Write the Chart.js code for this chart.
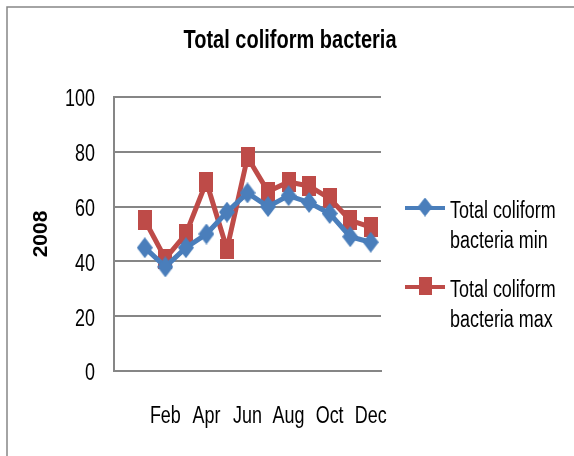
<!DOCTYPE html>
<html>
<head>
<meta charset="utf-8">
<script src="https://cdn.jsdelivr.net/npm/chart.js@4/dist/chart.umd.min.js"></script>
<style>
  html, body { margin: 0; padding: 0; background: #ffffff; }
  #wrap { width: 574px; height: 456px; position: relative; }
</style>
</head>
<body>
<div id="wrap"><canvas id="c" width="574" height="456"></canvas></div>
<script>
// Monthly total coliform bacteria counts, 2008
const months = ['Jan', 'Feb', 'Mar', 'Apr', 'May', 'Jun', 'Jul', 'Aug', 'Sep', 'Oct', 'Nov', 'Dec'];
const coliformMin = [45, 38, 45, 50, 58, 65, 60, 64, 61.5, 57.5, 49, 47];
const coliformMax = [55, 41, 50, 69, 44.5, 78, 65.5, 69, 67.5, 63, 55, 52.5];
const seriesNames = [['Total coliform', 'bacteria min'], ['Total coliform', 'bacteria max']];
const yTicks = [0, 20, 40, 60, 80, 100];
const chartTitle = 'Total coliform bacteria';
const yTitle = '2008';

const SANS = '"Liberation Sans", Arial, sans-serif';
const NARROW_X = 0.78;   // horizontal squeeze for the condensed lettering
const GRID = '#868686';
const BLUE = '#4a7ebb';
const RED = '#be4b48';

// the category axis starts with one empty slot before January
const labels = [''].concat(months);
const minData = [null].concat(coliformMin);
const maxData = [null].concat(coliformMax);

// tall marker glyphs: a diamond and an upright rectangle
function makeMarker(kind, color) {
  const c = document.createElement('canvas');
  const w = kind === 'diamond' ? 16 : 14;
  const h = kind === 'diamond' ? 21 : 20;
  c.width = w;
  c.height = h;
  const g = c.getContext('2d');
  g.fillStyle = color;
  if (kind === 'diamond') {
    g.beginPath();
    g.moveTo(w / 2, 0);
    g.lineTo(w, h / 2);
    g.lineTo(w / 2, h);
    g.lineTo(0, h / 2);
    g.closePath();
    g.fill();
  } else {
    g.fillRect(0, 0, w, h);
  }
  return c;
}
const diamondMarker = makeMarker('diamond', BLUE);
const squareMarker = makeMarker('square', RED);

function narrowText(ctx, text, x, y, align, font, sx) {
  ctx.save();
  ctx.translate(x, y);
  ctx.scale(sx, 1);
  ctx.font = font;
  ctx.fillStyle = '#000000';
  ctx.textAlign = align;
  ctx.textBaseline = 'middle';
  ctx.fillText(text, 0, 0);
  ctx.restore();
}

// outer frame along the top and left edges
const framePlugin = {
  id: 'frame',
  beforeDraw(chart) {
    const ctx = chart.ctx;
    ctx.save();
    ctx.strokeStyle = GRID;
    ctx.lineWidth = 1.5;
    ctx.beginPath();
    ctx.moveTo(7, chart.height);
    ctx.lineTo(7, 7);
    ctx.lineTo(chart.width, 7);
    ctx.stroke();
    ctx.restore();
  }
};

// condensed title and axis labels
const labelsPlugin = {
  id: 'narrowLabels',
  afterDraw(chart) {
    const ctx = chart.ctx;
    const area = chart.chartArea;
    narrowText(ctx, chartTitle, 290, 41, 'center', 'bold 25px ' + SANS, 0.8);

    const ys = chart.scales.y;
    ys.ticks.forEach(t => {
      narrowText(ctx, String(t.value), area.left - 19, ys.getPixelForValue(t.value) + 3,
        'right', '23px ' + SANS, NARROW_X);
    });

    const xs = chart.scales.x;
    labels.forEach((lab, i) => {
      if (i % 2 === 0 && lab) {
        narrowText(ctx, lab, xs.getPixelForTick(i), area.bottom + 46,
          'center', '23px ' + SANS, NARROW_X);
      }
    });
  }
};

// legend to the right of the plot with two-line entries
const sideLegend = {
  id: 'sideLegend',
  afterDraw(chart) {
    const ctx = chart.ctx;
    const area = chart.chartArea;
    const x0 = area.right + 24;
    const sampleW = 40;
    const textX = x0 + sampleW + 5;
    const lineGap = 30;
    chart.data.datasets.forEach((ds, i) => {
      const y = 208 + i * 79;
      ctx.save();
      ctx.strokeStyle = ds.borderColor;
      ctx.lineWidth = 4;
      ctx.beginPath();
      ctx.moveTo(x0, y);
      ctx.lineTo(x0 + sampleW, y);
      ctx.stroke();
      const m = ds.pointStyle;
      const cx = x0 + sampleW / 2;
      ctx.drawImage(m, cx - m.width / 2 + 0.5, y - m.height / 2, m.width - 1, m.height - 2);
      ctx.restore();
      seriesNames[i].forEach((line, k) => {
        narrowText(ctx, line, textX, y + 4 + k * lineGap, 'left', '23px ' + SANS, NARROW_X);
      });
    });
  }
};

new Chart(document.getElementById('c'), {
  type: 'line',
  data: {
    labels: labels,
    datasets: [
      {
        label: seriesNames[0].join(' '),
        data: minData,
        borderColor: BLUE,
        backgroundColor: BLUE,
        pointBackgroundColor: BLUE,
        pointBorderColor: BLUE,
        borderWidth: 5,
        pointStyle: diamondMarker,
        pointRadius: 9,
        tension: 0,
        spanGaps: false
      },
      {
        label: seriesNames[1].join(' '),
        data: maxData,
        borderColor: RED,
        backgroundColor: RED,
        pointBackgroundColor: RED,
        pointBorderColor: RED,
        borderWidth: 5,
        pointStyle: squareMarker,
        pointRadius: 9,
        tension: 0,
        spanGaps: false
      }
    ]
  },
  options: {
    responsive: false,
    animation: false,
    events: [],
    layout: { padding: { left: 0, right: 193, top: 97, bottom: 0 } },
    plugins: {
      legend: { display: false },
      tooltip: { enabled: false },
      title: { display: false }
    },
    scales: {
      x: {
        type: 'category',
        offset: true,
        grid: { display: false, drawTicks: false },
        border: { display: true, color: GRID, width: 2 },
        ticks: { display: false, autoSkip: false },
        afterFit(scale) { scale.height = 85; }
      },
      y: {
        min: 0,
        max: 100,
        afterBuildTicks(scale) { scale.ticks = yTicks.map(v => ({ value: v })); },
        grid: { color: GRID, lineWidth: 2, drawTicks: false },
        border: { display: true, color: GRID, width: 2 },
        ticks: { display: false },
        title: {
          display: true,
          text: yTitle,
          color: '#000000',
          font: { family: SANS, size: 21, weight: 'bold', lineHeight: 1.2 },
          padding: { top: 29, bottom: 0 }
        },
        afterFit(scale) { scale.width = 114; }
      }
    }
  },
  plugins: [framePlugin, labelsPlugin, sideLegend]
});
</script>
</body>
</html>
